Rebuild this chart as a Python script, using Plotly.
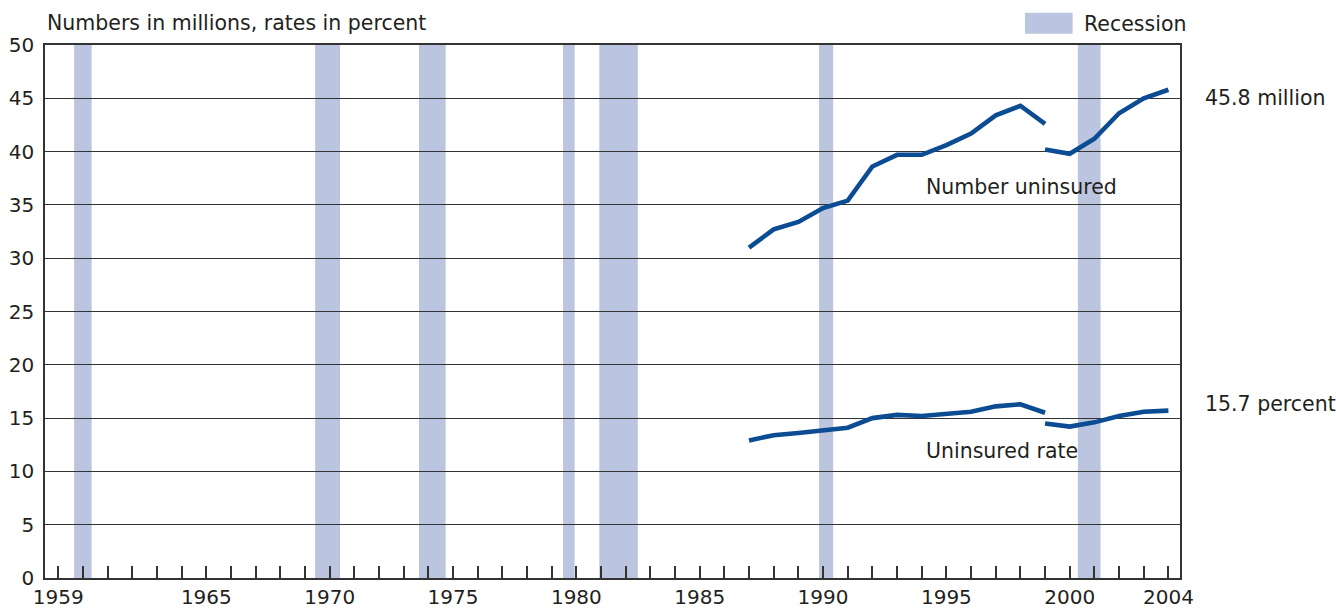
import plotly.graph_objects as go

# ---- data ----
years_a = list(range(1987, 2000))
number_a = [31.0, 32.7, 33.4, 34.7, 35.4, 38.6, 39.7, 39.7, 40.6, 41.7, 43.4, 44.3, 42.6]
rate_a = [12.9, 13.4, 13.6, 13.9, 14.1, 15.0, 15.3, 15.2, 15.4, 15.6, 16.1, 16.3, 15.5]

years_b = list(range(1999, 2005))
number_b = [40.2, 39.8, 41.2, 43.6, 45.0, 45.8]
rate_b = [14.5, 14.2, 14.6, 15.2, 15.6, 15.7]

recession_start = [1959.64, 1969.41, 1973.62, 1979.46, 1980.93, 1989.84, 2000.33]
recession_end = [1960.35, 1970.42, 1974.70, 1979.93, 1982.49, 1990.41, 2001.25]

x_tick_vals = [1959, 1965, 1970, 1975, 1980, 1985, 1990, 1995, 2000, 2004]
x_tick_text = [str(v) for v in x_tick_vals]
all_years = list(range(1959, 2005))
y_tick_vals = list(range(0, 51, 5))

LINE = "#0B4C93"
BAR = "#BCC5DF"
TXT = "#231F20"
FONT = "DejaVu Sans"
ANN = 20.5

fig = go.Figure()
for xs, ys in [(years_a, number_a), (years_b, number_b), (years_a, rate_a), (years_b, rate_b)]:
    fig.add_trace(go.Scatter(x=xs, y=ys, mode="lines",
                             line=dict(color=LINE, width=4.6),
                             showlegend=False, hoverinfo="skip"))

for s, e in zip(recession_start, recession_end):
    fig.add_shape(type="rect", xref="x", yref="paper", x0=s, x1=e, y0=0, y1=1,
                  fillcolor=BAR, line=dict(width=0), layer="below")

# legend swatch
fig.add_shape(type="rect", xref="paper", yref="paper", x0=0.8634, x1=0.9054,
              y0=1.021, y1=1.0604, fillcolor=BAR, line=dict(width=0))
fig.add_annotation(xref="paper", yref="paper", x=0.9137, y=1.0385, text="Recession",
                   showarrow=False, xanchor="left", yanchor="middle",
                   font=dict(family=FONT, size=ANN, color=TXT))
fig.add_annotation(xref="paper", yref="paper", x=0.0, y=1.0422,
                   text="Numbers in millions, rates in percent",
                   showarrow=False, xanchor="left", yanchor="middle",
                   font=dict(family=FONT, size=ANN, color=TXT))

fig.add_annotation(x=1994.1, y=36.7, text="Number uninsured", showarrow=False,
                   xanchor="left", yanchor="middle", font=dict(family=FONT, size=ANN, color=TXT))
fig.add_annotation(x=1994.1, y=11.95, text="Uninsured rate", showarrow=False,
                   xanchor="left", yanchor="middle", font=dict(family=FONT, size=ANN, color=TXT))
fig.add_annotation(xref="paper", x=1.0203, y=45.0, text="45.8 million", showarrow=False,
                   xanchor="left", yanchor="middle", font=dict(family=FONT, size=ANN, color=TXT))
fig.add_annotation(xref="paper", x=1.0203, y=16.35, text="15.7 percent", showarrow=False,
                   xanchor="left", yanchor="middle", font=dict(family=FONT, size=ANN, color=TXT))

fig.update_layout(
    width=1336, height=609,
    margin=dict(l=45, r=156, t=45, b=31),
    plot_bgcolor="white", paper_bgcolor="white",
    font=dict(family=FONT, size=20, color=TXT),
    showlegend=False,
)
fig.update_xaxes(
    range=[1958.46, 2004.47], automargin=False,
    tickmode="array", tickvals=x_tick_vals, ticktext=x_tick_text,
    ticks="inside", ticklen=12, tickwidth=1.5, tickcolor="#333",
    minor=dict(tickmode="array", tickvals=all_years, ticks="inside", ticklen=12,
               tickwidth=1.5, tickcolor="#333", showgrid=False),
    showgrid=False, zeroline=False,
    showline=True, linecolor="#333", linewidth=1.5, mirror=True,
    tickfont=dict(family=FONT, size=20, color=TXT),
)
fig.update_yaxes(
    range=[0, 50], automargin=False, tickmode="array", tickvals=y_tick_vals,
    ticks="", showgrid=True, gridcolor="#333", gridwidth=1,
    zeroline=False, showline=True, linecolor="#333", linewidth=1.5, mirror=True,
    tickfont=dict(family=FONT, size=20, color=TXT),
    ticklabelstandoff=5,
)

fig.write_html("out.html", config={"displayModeBar": False},
               post_script="document.body.style.margin='0px';document.body.style.overflow='hidden';")
